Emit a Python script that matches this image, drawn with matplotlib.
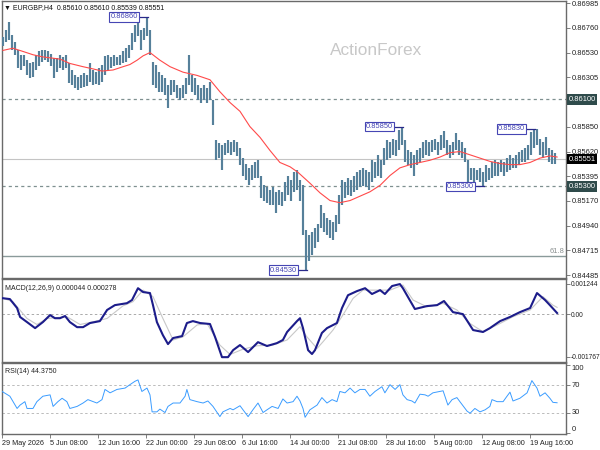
import matplotlib
matplotlib.use("Agg")
import matplotlib.pyplot as plt
import matplotlib.transforms as mtransforms
import numpy as np

plt.rcParams['font.family'] = ['Liberation Sans', 'DejaVu Sans']

# EURGBP H4 bars, sampled every second bar (high / low)
bar_high = [0.8667, 0.8674, 0.8681, 0.8669, 0.8663, 0.8655, 0.8651, 0.8651, 0.8646, 0.8643,
            0.8644, 0.8651, 0.8654, 0.8655, 0.8655, 0.8654, 0.8652, 0.8648, 0.8648, 0.8651,
            0.8649, 0.8651, 0.8643, 0.8637, 0.8632, 0.8631, 0.8632, 0.8634, 0.8632, 0.8643,
            0.8637, 0.8635, 0.8639, 0.8642, 0.8650, 0.8651, 0.8649, 0.8651, 0.8649, 0.8651,
            0.8654, 0.8657, 0.8660, 0.8671, 0.8678, 0.8681, 0.8674, 0.8676, 0.86860, 0.8674,
            0.8644, 0.8642, 0.8635, 0.8632, 0.8630, 0.8623, 0.8628, 0.8628, 0.8623, 0.8620,
            0.8623, 0.8630, 0.8651, 0.8632, 0.8630, 0.8623, 0.8620, 0.8623, 0.8620, 0.8626,
            0.8609, 0.8573, 0.8570, 0.8568, 0.8570, 0.8573, 0.8571, 0.8573, 0.8571, 0.8565,
            0.8556, 0.8551, 0.8547, 0.8550, 0.8552, 0.8554, 0.8540, 0.8531, 0.8529, 0.8527,
            0.8529, 0.8525, 0.8527, 0.8525, 0.8534, 0.8540, 0.8536, 0.8543, 0.8545, 0.8536,
            0.8531, 0.8490, 0.8485, 0.8488, 0.8492, 0.8495, 0.8513, 0.8506, 0.8501, 0.8499,
            0.8497, 0.8504, 0.8522, 0.8536, 0.8534, 0.8538, 0.8536, 0.8540, 0.8543, 0.8545,
            0.8547, 0.8545, 0.8543, 0.8554, 0.8552, 0.8559, 0.8554, 0.8565, 0.8573, 0.8571,
            0.8574, 0.8573, 0.8582, 0.85850, 0.8573, 0.8563, 0.8562, 0.8559, 0.8563, 0.8565,
            0.8571, 0.8573, 0.8571, 0.8573, 0.8574, 0.8571, 0.8577, 0.8581, 0.8573, 0.8568,
            0.8571, 0.8579, 0.8573, 0.8571, 0.8565, 0.8554, 0.8547, 0.8547, 0.8545, 0.8547,
            0.8543, 0.8550, 0.8547, 0.8552, 0.8554, 0.8552, 0.8554, 0.8552, 0.8556, 0.8559,
            0.8556, 0.8559, 0.8562, 0.8563, 0.8565, 0.8568, 0.8580, 0.85830, 0.8583, 0.8574,
            0.8571, 0.8575, 0.8565, 0.8563, 0.8561]
bar_low = [0.8659, 0.8663, 0.8665, 0.8655, 0.8651, 0.8639, 0.8637, 0.8641, 0.8632, 0.8630,
           0.8631, 0.8637, 0.8641, 0.8644, 0.8646, 0.8644, 0.8641, 0.8630, 0.8635, 0.8639,
           0.8637, 0.8639, 0.8625, 0.8623, 0.8620, 0.8619, 0.8620, 0.8621, 0.8622, 0.8626,
           0.8623, 0.8624, 0.8623, 0.8626, 0.8632, 0.8637, 0.8639, 0.8641, 0.8642, 0.8642,
           0.8643, 0.8644, 0.8648, 0.8655, 0.8663, 0.8668, 0.8655, 0.8665, 0.8668, 0.8651,
           0.8623, 0.8620, 0.8617, 0.8617, 0.8614, 0.8602, 0.8614, 0.8617, 0.8611, 0.8609,
           0.8611, 0.8615, 0.8623, 0.8617, 0.8614, 0.8609, 0.8607, 0.8609, 0.8607, 0.8609,
           0.8586, 0.8554, 0.8556, 0.8545, 0.8559, 0.8561, 0.8559, 0.8562, 0.8558, 0.8550,
           0.8540, 0.8536, 0.8531, 0.8536, 0.8538, 0.8538, 0.8519, 0.8517, 0.8515, 0.8513,
           0.8513, 0.8506, 0.8513, 0.8512, 0.8517, 0.8522, 0.8517, 0.8525, 0.8527, 0.8517,
           0.8485, 0.84530, 0.8461, 0.8467, 0.8473, 0.8479, 0.8492, 0.8488, 0.8485, 0.8483,
           0.8481, 0.8488, 0.8495, 0.8513, 0.8519, 0.8522, 0.8521, 0.8525, 0.8527, 0.8529,
           0.8530, 0.8529, 0.8527, 0.8534, 0.8538, 0.8540, 0.8538, 0.8550, 0.8554, 0.8556,
           0.8559, 0.8558, 0.8563, 0.8568, 0.8552, 0.8550, 0.8547, 0.8540, 0.8550, 0.8552,
           0.8556, 0.8559, 0.8558, 0.8562, 0.8563, 0.8559, 0.8563, 0.8565, 0.8559, 0.8556,
           0.8559, 0.8563, 0.8559, 0.8556, 0.8552, 0.8534, 0.8536, 0.8534, 0.8536, 0.8534,
           0.85300, 0.8534, 0.8536, 0.8538, 0.8540, 0.8540, 0.8543, 0.8540, 0.8543, 0.8545,
           0.8547, 0.8547, 0.8550, 0.8552, 0.8552, 0.8554, 0.8559, 0.8565, 0.8568, 0.8559,
           0.8556, 0.8559, 0.8552, 0.8551, 0.8551]

# moving average (red)
ma_pos = [0, 3.3, 6.7, 10, 13.3, 19, 22.3, 26.7, 30, 33, 36.7, 40, 42.3, 44.7, 46.7, 49,
          52.3, 55.7, 60, 64.7, 69, 72.3, 75.7, 79, 82.3, 85.7, 89, 92.3, 95.7, 98.3, 102.3,
          105.7, 109, 112.3, 115.7, 119, 122.3, 125.7, 129, 132.3, 135.7, 139, 142.3, 145.7,
          149, 152.3, 155.7, 159, 162.3, 165.7, 169, 172.3, 175.7, 179, 182.3, 184.7]
ma_val = [0.8655, 0.8657, 0.8654, 0.8651, 0.8649, 0.8647, 0.8643, 0.8640, 0.8638, 0.8636,
          0.8637, 0.8640, 0.8642, 0.8646, 0.8650, 0.8653, 0.8646, 0.8640, 0.8635, 0.8632,
          0.8628, 0.8617, 0.8607, 0.8599, 0.8585, 0.8575, 0.8563, 0.8552, 0.8548, 0.8543,
          0.8533, 0.8524, 0.8517, 0.8515, 0.8517, 0.8521, 0.8525, 0.8531, 0.8540, 0.8547,
          0.8550, 0.8552, 0.8554, 0.8557, 0.8561, 0.8562, 0.8559, 0.8556, 0.8553, 0.8551,
          0.8550, 0.8550, 0.8552, 0.8556, 0.8558, 0.8557]

macd_pos = [-0.3, 2.3, 4.7, 5.7, 8, 10.7, 13.3, 15.7, 17.3, 19, 20.7, 22.3, 24.7, 26.7, 29,
            32.3, 34.7, 37.3, 41.3, 43, 45, 46.7, 49, 50, 51.3, 53.3, 55, 56.7, 59.7, 61.3,
            63.3, 65.7, 69, 70.7, 73, 75, 76.7, 79, 81.7, 85, 88, 91.3, 93.3, 94.7, 98, 99,
            100, 101.7, 103, 104, 106.3, 108, 111.3, 113, 115, 118, 120.7, 123, 125.7, 127.3,
            129.7, 132.3, 133.3, 137.3, 141.3, 144.7, 147, 150, 153.3, 156.7, 160, 162.3,
            165.7, 169, 172.3, 175.7, 178, 180.7, 182.3, 184.7]
macd_val = [0.00066, 0.00062, 0.00025, -0.00012, -0.00033, -0.00058, -0.00033, -0.00004,
            -0.00017, -0.00017, -0.00008, -0.00033, -0.00054, -0.00054, -0.00037, -0.00029,
            0.00017, 0.00037, 0.00045, 0.00058, 0.00107, 0.00091, 0.00087, 0.00037, -0.00033,
            -0.00087, -0.00124, -0.00099, -0.00091, -0.00037, -0.00029, -0.00037, -0.00041,
            -0.00095, -0.00178, -0.00178, -0.00149, -0.00128, -0.00157, -0.00116, -0.00132,
            -0.00120, -0.00107, -0.00074, -0.00029, -0.00017, -0.00058, -0.00149, -0.00165,
            -0.00149, -0.00078, -0.00058, -0.00037, 0.00025, 0.00078, 0.00095, 0.00107,
            0.00083, 0.00099, 0.00083, 0.00116, 0.00124, 0.00107, 0.00021, 0.00033, 0.00037,
            0.00054, 0.00008, 0.0, -0.00066, -0.00074, -0.00058, -0.00029, -0.00012, 0.00008,
            0.00025, 0.00087, 0.00058, 0.00037, 0.000044]

signal_pos = [-0.3, 3.3, 8, 11.3, 14.7, 21.3, 25.7, 30, 34.7, 40, 43.3, 46.7, 50, 53.3, 56.7,
              60, 64.7, 68, 72.3, 75.7, 80, 84.7, 90, 94.7, 99, 101.3, 104.7, 106.7, 110,
              113.3, 116.7, 120, 124.7, 129, 133.3, 136.7, 141.3, 146.7, 151.3, 155.7, 160,
              164.7, 170, 175.7, 180, 183.3, 184.7]
signal_val = [0.00067, 0.00051, -0.00018, -0.00043, -0.00018, -0.00011, -0.00043, -0.00032,
              -0.00018, 0.00034, 0.00051, 0.00099, 0.00072, -0.00018, -0.00107, -0.00094,
              -0.00045, -0.00039, -0.00128, -0.00167, -0.00145, -0.00131, -0.00128, -0.00107,
              -0.00052, -0.00094, -0.00142, -0.00114, -0.00066, -0.00004, 0.00065, 0.00099,
              0.00099, 0.00099, 0.00120, 0.00058, 0.00030, 0.00044, 0.00017, -0.00039,
              -0.00073, -0.00045, -0.00011, 0.00017, 0.00072, 0.00037, 0.000278]

rsi_pos = [-0.3, 2.3, 4.7, 5.7, 7.3, 8, 10, 11.3, 13.3, 15.7, 16.7, 18.3, 19.7, 21.3, 22.3,
           24.7, 26.7, 28.3, 31.3, 33, 34, 35.7, 38, 40.7, 42.3, 44, 45, 46.3, 48, 49, 49.7,
           51.3, 52.3, 54, 55, 56.7, 59, 60.7, 61.3, 62.3, 64.7, 66.7, 68.3, 70, 72.3, 73.3,
           75.7, 76.7, 79, 81.7, 83.3, 85, 86.7, 88, 89.7, 91.7, 93.3, 94.7, 96.7, 98, 99,
           100, 100.7, 102.3, 104.7, 106.3, 108, 109.7, 111.3, 112.3, 114, 115.7, 117.3, 119,
           120.7, 122.3, 124, 126.3, 127.3, 129, 130.7, 132.3, 133.3, 134.7, 136.3, 137.3,
           139, 140.7, 141.7, 143.3, 146.7, 148.3, 149.7, 151.3, 152.3, 154.7, 155.7, 157.3,
           159, 160.7, 162.3, 163, 164.7, 166.7, 168, 169, 170, 172.3, 174.7, 176.3, 178, 179,
           180.7, 182.3, 183.3, 184.7]
rsi_val = [61, 54, 36, 41, 46, 36, 36, 46, 54, 56, 39, 46, 51, 46, 36, 39, 44, 49, 44, 49,
           64, 59, 64, 66, 71, 76, 78, 61, 66, 56, 31, 31, 35, 30, 39, 44, 44, 54, 64, 49,
           46, 44, 47, 39, 24, 31, 36, 34, 40, 24, 34, 44, 30, 34, 39, 36, 50, 44, 46, 54,
           47, 36, 23, 34, 41, 52, 44, 49, 46, 61, 59, 66, 59, 64, 64, 54, 61, 68, 59, 71,
           64, 71, 56, 49, 47, 44, 57, 56, 54, 59, 62, 41, 49, 52, 46, 32, 29, 36, 31, 34,
           39, 49, 46, 46, 54, 60, 47, 51, 59, 77, 66, 54, 59, 51, 45, 44.375]

date_labels = ['29 May 2026', '5 Jun 08:00', '12 Jun 16:00', '22 Jun 00:00', '29 Jun 08:00',
               '6 Jul 16:00', '14 Jul 00:00', '21 Jul 08:00', '28 Jul 16:00', '5 Aug 00:00',
               '12 Aug 08:00', '19 Aug 16:00']
price_ticks = [0.86985, 0.86760, 0.86530, 0.86305, 0.85850, 0.85620, 0.85395,
               0.85170, 0.84940, 0.84715, 0.84485]

resistance = 0.86100
support = 0.85300
last_price = 0.85551
fib_618 = 0.84662

# (label, bar index of the swing, price)
swing_labels = [('0.86860', 48, 0.86860), ('0.85850', 133, 0.85850),
                ('0.85830', 177, 0.85830), ('0.85300', 160, 0.85300),
                ('0.84530', 101, 0.84530)]

bar_color = '#56809a'
spine_color = '#6a6a6a'
fs = 5.4

fig = plt.figure(figsize=(6, 4.5), dpi=100)
fig.patch.set_facecolor('white')
ax = fig.add_axes([2 / 600, 1 - 278 / 450, 564 / 600, 277 / 450])
ax2 = fig.add_axes([2 / 600, 1 - 362 / 450, 564 / 600, 83 / 450])
ax3 = fig.add_axes([2 / 600, 1 - 434 / 450, 564 / 600, 71 / 450])

xlim = (-0.33, 187.67)
for a in (ax, ax2, ax3):
    a.set_xlim(*xlim)
    for s in a.spines.values():
        s.set_color(spine_color)
        s.set_linewidth(1.0)
    a.yaxis.tick_right()
    a.tick_params(axis='y', direction='out', length=3, width=0.6, pad=1,
                  labelsize=fs, colors=spine_color, labelcolor='#222222')

pos = np.arange(len(bar_high))

# ---- price panel
ax.vlines(pos, bar_low, bar_high, color=bar_color, lw=1.55, zorder=3)
ax.plot(ma_pos, ma_val, color='#ff4a4a', lw=0.8, zorder=4)
ax.axhline(resistance, color='#7f9090', lw=0.9, ls=(0, (2.5, 2.5)), zorder=2)
ax.axhline(support, color='#7f9090', lw=0.9, ls=(0, (2.5, 2.5)), zorder=2)
ax.axhline(last_price, color='#c4c4c4', lw=0.8, zorder=2)
ax.axhline(fib_618, color='#8a9a9a', lw=1.0, zorder=2)
ax.text(187.2, fib_618 + 0.00004, '61.8', fontsize=fs, color='#8a9090',
        ha='right', va='bottom')

ax.set_ylim(0.84458, 0.87004)
ax.set_yticks(price_ticks)
ax.set_yticklabels(['%.5f' % p for p in price_ticks])
ax.set_xticks([])

ax.text(0.663, 0.82, 'ActionForex', transform=ax.transAxes, fontsize=12.4,
        color='#c8c8c8', ha='center', va='center', family='Liberation Sans')

for text, idx, price in swing_labels:
    ax.plot([idx - 3, idx + 0.3], [price, price], color='#2a2a8a', lw=0.9, zorder=5)
    ax.text(idx - 3, price, text, fontsize=fs, color='#4646b4', ha='right', va='center',
            zorder=6, bbox=dict(boxstyle='square,pad=0.18', fc='white', ec='#4646b4', lw=0.8))

tr = mtransforms.blended_transform_factory(ax.transAxes, ax.transData)
for price, fc in ((resistance, '#2f4b4b'), (last_price, '#000000'), (support, '#2f4b4b')):
    ax.text(1.004, price, '%.5f' % price, transform=tr, fontsize=fs, color='white',
            ha='left', va='center', zorder=7, clip_on=False,
            bbox=dict(boxstyle='square,pad=0.22', fc=fc, ec='none'))

fig.text(4 / 600, 1 - 8 / 450, '\u25bc EURGBP,H4  0.85610 0.85610 0.85539 0.85551',
         fontsize=5.0, color='#111111', va='center', ha='left')

# ---- MACD panel
ax2.plot(signal_pos, signal_val, color='#c8c8c8', lw=0.8, zorder=3)
ax2.plot(macd_pos, macd_val, color='#1c1c8a', lw=1.5, zorder=4)
ax2.axhline(0, color='#aaaaaa', lw=0.7, ls=(0, (2.5, 2.5)), zorder=2)
ax2.set_ylim(-0.00198, 0.00145)
ax2.set_yticks([0.001244, 0.0, -0.001767])
ax2.set_yticklabels(['0.001244', '0.00', '-0.001767'])
ax2.tick_params(axis='y', labelsize=4.8, pad=0.5)
ax2.set_xticks([])
ax2.text(0.006, 0.93, 'MACD(12,26,9) 0.000044 0.000278', transform=ax2.transAxes,
         fontsize=5.0, color='#222222', ha='left', va='top')

# ---- RSI panel
ax3.plot(rsi_pos, rsi_val, color='#3a9cff', lw=0.7, zorder=3)
ax3.axhline(70, color='#bbbbbb', lw=0.7, ls=(0, (2.5, 2.5)), zorder=2)
ax3.axhline(30, color='#bbbbbb', lw=0.7, ls=(0, (2.5, 2.5)), zorder=2)
ax3.set_ylim(-1.6, 102.9)
ax3.set_yticks([100, 70, 30, 0])
ax3.set_yticklabels(['100', '70', '30', '0'])
for lab, va in zip(ax3.get_yticklabels(), ['top', 'center', 'center', 'bottom']):
    lab.set_va(va)
ax3.text(0.006, 0.93, 'RSI(14) 44.3750', transform=ax3.transAxes,
         fontsize=5.0, color='#222222', ha='left', va='top')

ax3.set_xticks(np.arange(len(date_labels)) * 16 - 0.33)
ax3.set_xticklabels(date_labels)
ax3.tick_params(axis='x', direction='out', length=3, width=0.6, pad=1.5,
                labelsize=5.2, colors=spine_color, labelcolor='#222222')
for lab in ax3.get_xticklabels():
    lab.set_ha('left')

fig.savefig('out.png', dpi=100, facecolor='white')
